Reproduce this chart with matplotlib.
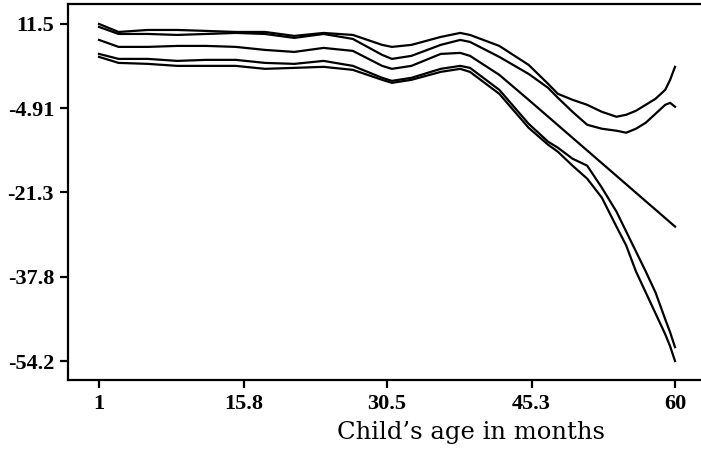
import matplotlib.pyplot as plt
import numpy as np

plt.rcParams['font.family'] = 'serif'
plt.rcParams['font.serif'] = ['Liberation Serif', 'DejaVu Serif']

# child's age in months
age = np.array([1, 3, 6, 9, 12, 15, 18, 21, 24, 27, 30, 31, 33, 36, 38, 39, 42, 45,
                47, 48, 49.5, 51, 52.5, 54, 55, 56, 57, 58, 59, 59.5, 60])

upper_a = np.array([11.5, 9.94, 10.33, 10.33, 10.14, 9.94, 9.94, 9.17, 9.75, 9.36, 7.42, 7.03,
                    7.42, 8.97, 9.75, 9.36, 7.22, 3.53, -0.17, -2.12, -3.28, -4.26, -5.62,
                    -6.59, -6.20, -5.42, -4.26, -3.09, -1.34, 0.61, 3.14])
upper_b = np.array([10.92, 9.55, 9.55, 9.36, 9.55, 9.75, 9.55, 8.78, 9.55, 8.58, 5.47, 4.69,
                    5.28, 7.42, 8.39, 8.00, 5.08, 1.77, -0.95, -2.89, -5.62, -8.15, -8.92,
                    -9.31, -9.70, -8.92, -7.76, -6.01, -4.26, -3.87, -4.64])
estimate = np.array([8.39, 7.03, 7.03, 7.22, 7.22, 7.03, 6.44, 6.05, 6.83, 6.25, 3.33, 2.75,
                     3.33, 5.66, 5.86, 5.28, 1.58, -3.28, -6.57, -8.22, -10.69, -13.16, -15.63,
                     -18.10, -19.75, -21.40, -23.05, -24.69, -26.34, -27.17, -27.99])
lower_a = np.array([5.66, 4.69, 4.69, 4.30, 4.50, 4.50, 3.91, 3.72, 4.30, 3.33, 1.00, 0.41,
                    1.00, 2.75, 3.33, 2.94, -1.34, -7.95, -11.45, -12.62, -14.76, -16.12, -20.40,
                    -25.07, -28.96, -32.85, -36.74, -40.82, -46.07, -48.60, -51.50])
lower_b = np.array([5.08, 3.91, 3.72, 3.33, 3.33, 3.33, 2.75, 2.94, 3.14, 2.55, 0.61, 0.02,
                    0.61, 2.16, 2.75, 2.16, -2.12, -8.73, -12.04, -13.40, -16.12, -18.65, -22.34,
                    -27.99, -31.68, -36.74, -40.82, -44.91, -48.99, -51.33, -54.20])

xticks = [1, 15.8, 30.5, 45.3, 60]
xtick_labels = ['1', '15.8', '30.5', '45.3', '60']
yticks = [11.5, -4.91, -21.3, -37.8, -54.2]
ytick_labels = ['11.5', '-4.91', '-21.3', '-37.8', '-54.2']

fig = plt.figure(figsize=(7.01, 4.55), dpi=100)
ax = fig.add_axes([68/701, 1 - 380/455, 632/701, 376/455])

for s in (upper_a, upper_b, estimate, lower_a, lower_b):
    ax.plot(age, s, color='black', linewidth=1.6)

ax.set_xlim(-2.18, 62.56)
ax.set_ylim(-57.9, 15.39)
ax.spines['right'].set_visible(False)
for sp in ('left', 'top', 'bottom'):
    ax.spines[sp].set_linewidth(1.6)

ax.set_xticks(xticks)
ax.set_xticklabels(xtick_labels, fontweight='bold', fontsize=16)
ax.set_yticks(yticks)
ax.set_yticklabels(ytick_labels, fontweight='bold', fontsize=16)
ax.tick_params(direction='out', length=6, width=1.6, pad=4)

ax.set_xlabel('Child\u2019s age in months', fontsize=17.5, family='DejaVu Serif')
ax.xaxis.set_label_coords(0.638, -0.11)

fig.savefig('out.png', dpi=100)
